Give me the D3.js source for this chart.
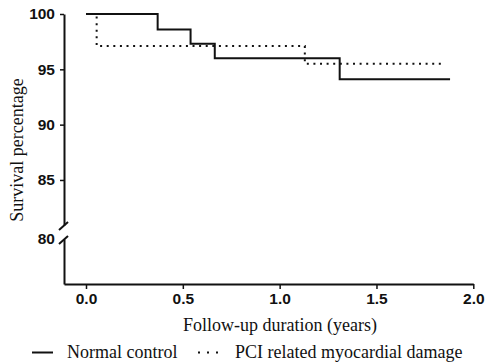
<!DOCTYPE html>
<html>
<head>
<meta charset="utf-8">
<script src="https://cdn.jsdelivr.net/npm/d3@7"></script>
<style>
  html, body { margin: 0; padding: 0; background: #fff; }
  svg { display: block; }
  .tick text { font-family: "Liberation Sans", Arial, sans-serif; font-weight: bold; font-size: 15.5px; fill: #111; }
  .serif { font-family: "Liberation Serif", "Times New Roman", serif; font-size: 18px; fill: #111; }
</style>
</head>
<body>
<svg id="chart" width="486" height="363"></svg>
<script>
// ---- data ----
const normalTimes = [0, 0.37, 0.54, 0.665, 1.31, 1.88];
const normalSurv  = [100, 98.6, 97.3, 96.0, 94.1, 94.1];
const pciTimes    = [0, 0.055, 1.13, 1.84];
const pciSurv     = [100, 97.1, 95.5, 95.5];
const xTicks      = [0, 0.5, 1.0, 1.5, 2.0];
const yTicksTop   = [85, 90, 95, 100];
const yTicksBottom = [80];
const seriesNames = ["Normal control", "PCI related myocardial damage"];
const xTitle = "Follow-up duration (years)";
const yTitle = "Survival percentage";

const svg = d3.select("#chart");
const ink = "#111";

const x = d3.scaleLinear().domain([-0.1136, 2.0]).range([64, 473.3]);
const yTop = d3.scaleLinear().domain([80.93, 100]).range([225, 14]);
const yBot = d3.scaleLinear().domain([75.95, 80]).range([284, 239]);

// x axis
const xAxis = svg.append("g").attr("transform", "translate(0,284)")
  .call(d3.axisBottom(x).tickValues(xTicks).tickFormat(d3.format(".1f")).tickSize(5).tickSizeOuter(0).tickPadding(4));
xAxis.select(".domain").attr("stroke", ink).attr("stroke-width", 2);
xAxis.selectAll(".tick line").attr("stroke", ink).attr("stroke-width", 1.5);

// y axis upper segment
const yAxisTop = svg.append("g").attr("transform", "translate(64,0)")
  .call(d3.axisLeft(yTop).tickValues(yTicksTop).tickFormat(d3.format("d")).tickSize(4).tickSizeOuter(0).tickPadding(5));
yAxisTop.select(".domain").attr("stroke", ink).attr("stroke-width", 2);
yAxisTop.selectAll(".tick line").attr("stroke", ink).attr("stroke-width", 1.5);

// y axis lower segment
const yAxisBot = svg.append("g").attr("transform", "translate(64,0)")
  .call(d3.axisLeft(yBot).tickValues(yTicksBottom).tickFormat(d3.format("d")).tickSize(0).tickSizeOuter(0).tickPadding(9));
yAxisBot.select(".domain").attr("stroke", ink).attr("stroke-width", 2);

// axis break slashes
[yTop(80.93) + 1, yBot(80) + 1].forEach(yy => {
  svg.append("line")
    .attr("x1", 59).attr("y1", yy + 4).attr("x2", 68).attr("y2", yy - 4)
    .attr("stroke", ink).attr("stroke-width", 2);
});

// survival curves
const line = d3.line().curve(d3.curveStepAfter).x(d => x(d[0])).y(d => yTop(d[1]));
svg.append("path")
  .datum(normalTimes.map((t, i) => [t, normalSurv[i]]))
  .attr("d", line).attr("fill", "none").attr("stroke", ink).attr("stroke-width", 2);
svg.append("path")
  .datum(pciTimes.map((t, i) => [t, pciSurv[i]]))
  .attr("d", line).attr("fill", "none").attr("stroke", ink).attr("stroke-width", 2)
  .attr("stroke-dasharray", "2,4.6");

// titles
svg.append("text").attr("class", "serif").attr("x", 280).attr("y", 331)
  .attr("text-anchor", "middle").text(xTitle);
svg.append("text").attr("class", "serif")
  .attr("transform", "translate(23,150) rotate(-90)")
  .attr("text-anchor", "middle").text(yTitle);

// legend
svg.append("line").attr("x1", 32).attr("x2", 53).attr("y1", 352.5).attr("y2", 352.5)
  .attr("stroke", ink).attr("stroke-width", 2);
svg.append("text").attr("class", "serif").attr("x", 67).attr("y", 357.5).text(seriesNames[0]);
svg.append("line").attr("x1", 198).attr("x2", 220).attr("y1", 352.5).attr("y2", 352.5)
  .attr("stroke", ink).attr("stroke-width", 2).attr("stroke-dasharray", "2,7");
svg.append("text").attr("class", "serif").attr("x", 235).attr("y", 357.5).text(seriesNames[1]);
</script>
</body>
</html>
